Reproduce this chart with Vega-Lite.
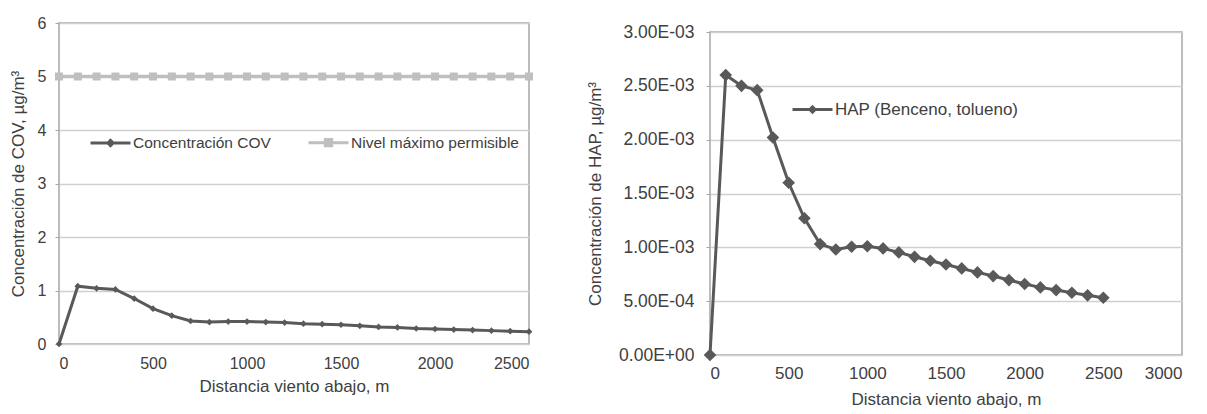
{
  "$schema": "https://vega.github.io/schema/vega-lite/v6.json",
  "background": "white",
  "padding": {"left": 8, "top": 14, "right": 0, "bottom": 0},
  "spacing": 48,
  "align": "none",
  "resolve": {"scale": {"color": "independent"}, "legend": {"color": "independent"}},
  "config": {
    "font": "Liberation Sans",
    "view": {"stroke": "#a6a6a6", "strokeWidth": 1.5},
    "axis": {
      "labelFont": "Liberation Sans",
      "titleFont": "Liberation Sans",
      "labelColor": "#404040",
      "titleColor": "#404040",
      "labelFontSize": 16,
      "titleFontSize": 17,
      "titleFontWeight": "normal",
      "gridColor": "#d0d0d0",
      "gridWidth": 1.5,
      "domain": false,
      "tickColor": "#a6a6a6"
    },
    "legend": {"labelFont": "Liberation Sans", "labelColor": "#404040", "labelLimit": 400}
  },
  "hconcat": [
    {
      "width": 470,
      "height": 321,
      "data": {
        "values": [
          {"d": 0, "serie": "Concentración COV", "c": 0},
          {"d": 100, "serie": "Concentración COV", "c": 1.08},
          {"d": 200, "serie": "Concentración COV", "c": 1.04},
          {"d": 300, "serie": "Concentración COV", "c": 1.02},
          {"d": 400, "serie": "Concentración COV", "c": 0.85},
          {"d": 500, "serie": "Concentración COV", "c": 0.66},
          {"d": 600, "serie": "Concentración COV", "c": 0.53},
          {"d": 700, "serie": "Concentración COV", "c": 0.43},
          {"d": 800, "serie": "Concentración COV", "c": 0.41},
          {"d": 900, "serie": "Concentración COV", "c": 0.42},
          {"d": 1000, "serie": "Concentración COV", "c": 0.42},
          {"d": 1100, "serie": "Concentración COV", "c": 0.41},
          {"d": 1200, "serie": "Concentración COV", "c": 0.4},
          {"d": 1300, "serie": "Concentración COV", "c": 0.38},
          {"d": 1400, "serie": "Concentración COV", "c": 0.37},
          {"d": 1500, "serie": "Concentración COV", "c": 0.36},
          {"d": 1600, "serie": "Concentración COV", "c": 0.34},
          {"d": 1700, "serie": "Concentración COV", "c": 0.32},
          {"d": 1800, "serie": "Concentración COV", "c": 0.31},
          {"d": 1900, "serie": "Concentración COV", "c": 0.29},
          {"d": 2000, "serie": "Concentración COV", "c": 0.28},
          {"d": 2100, "serie": "Concentración COV", "c": 0.27},
          {"d": 2200, "serie": "Concentración COV", "c": 0.26},
          {"d": 2300, "serie": "Concentración COV", "c": 0.25},
          {"d": 2400, "serie": "Concentración COV", "c": 0.24},
          {"d": 2500, "serie": "Concentración COV", "c": 0.23},
          {"d": 0, "serie": "Nivel máximo permisible", "c": 5},
          {"d": 100, "serie": "Nivel máximo permisible", "c": 5},
          {"d": 200, "serie": "Nivel máximo permisible", "c": 5},
          {"d": 300, "serie": "Nivel máximo permisible", "c": 5},
          {"d": 400, "serie": "Nivel máximo permisible", "c": 5},
          {"d": 500, "serie": "Nivel máximo permisible", "c": 5},
          {"d": 600, "serie": "Nivel máximo permisible", "c": 5},
          {"d": 700, "serie": "Nivel máximo permisible", "c": 5},
          {"d": 800, "serie": "Nivel máximo permisible", "c": 5},
          {"d": 900, "serie": "Nivel máximo permisible", "c": 5},
          {"d": 1000, "serie": "Nivel máximo permisible", "c": 5},
          {"d": 1100, "serie": "Nivel máximo permisible", "c": 5},
          {"d": 1200, "serie": "Nivel máximo permisible", "c": 5},
          {"d": 1300, "serie": "Nivel máximo permisible", "c": 5},
          {"d": 1400, "serie": "Nivel máximo permisible", "c": 5},
          {"d": 1500, "serie": "Nivel máximo permisible", "c": 5},
          {"d": 1600, "serie": "Nivel máximo permisible", "c": 5},
          {"d": 1700, "serie": "Nivel máximo permisible", "c": 5},
          {"d": 1800, "serie": "Nivel máximo permisible", "c": 5},
          {"d": 1900, "serie": "Nivel máximo permisible", "c": 5},
          {"d": 2000, "serie": "Nivel máximo permisible", "c": 5},
          {"d": 2100, "serie": "Nivel máximo permisible", "c": 5},
          {"d": 2200, "serie": "Nivel máximo permisible", "c": 5},
          {"d": 2300, "serie": "Nivel máximo permisible", "c": 5},
          {"d": 2400, "serie": "Nivel máximo permisible", "c": 5},
          {"d": 2500, "serie": "Nivel máximo permisible", "c": 5}
        ]
      },
      "encoding": {
        "x": {
          "field": "d", "type": "quantitative",
          "scale": {"domain": [0, 2500], "nice": false},
          "axis": {"values": [0, 500, 1000, 1500, 2000, 2500], "format": "d", "grid": false, "ticks": false, "labelPadding": 11, "titlePadding": 7, "title": "Distancia viento abajo, m"}
        },
        "y": {
          "field": "c", "type": "quantitative",
          "scale": {"domain": [0, 6], "nice": false},
          "axis": {"values": [0, 1, 2, 3, 4, 5, 6], "tickSize": 4, "labelPadding": 9, "titlePadding": 10, "title": "Concentración de COV, µg/m³"}
        },
        "color": {
          "field": "serie", "type": "nominal",
          "scale": {"domain": ["Concentración COV", "Nivel máximo permisible"], "range": ["#595959", "#bfbfbf"]},
          "legend": {
            "orient": "none", "legendX": 30, "legendY": 98, "direction": "horizontal", "title": null,
            "symbolSize": 1600, "labelFontSize": 15.5, "labelOffset": 1, "columnPadding": 31,
            "encode": {
              "symbols": {
                "update": {
                  "shape": {"signal": "datum.value === 'Concentración COV' ? 'M-1,0H1M-0.13,0L0,-0.13L0.13,0L0,0.13Z' : 'M-1,0H1M-0.16,-0.16H0.16V0.16H-0.16Z'"},
                  "fill": {"signal": "datum.value === 'Concentración COV' ? '#595959' : '#bfbfbf'"},
                  "stroke": {"signal": "datum.value === 'Concentración COV' ? '#595959' : '#bfbfbf'"},
                  "strokeWidth": {"value": 3},
                  "opacity": {"value": 1}
                }
              }
            }
          }
        }
      },
      "layer": [
        {"transform": [{"filter": "datum.serie === 'Nivel máximo permisible'"}], "mark": {"type": "line", "strokeWidth": 3.5}},
        {"transform": [{"filter": "datum.serie === 'Nivel máximo permisible'"}], "mark": {"type": "point", "shape": "square", "size": 64, "filled": true, "opacity": 1}},
        {"transform": [{"filter": "datum.serie === 'Concentración COV'"}], "mark": {"type": "line", "strokeWidth": 3}},
        {"transform": [{"filter": "datum.serie === 'Concentración COV'"}], "mark": {"type": "point", "shape": "diamond", "size": 45, "filled": true, "opacity": 1}}
      ]
    },
    {
      "spacing": -5,
      "vconcat": [
        {
          "width": 472,
          "height": 1,
          "view": {"stroke": null},
          "data": {"values": [{"s": 0}]},
          "mark": {"type": "point", "opacity": 0},
          "encoding": {}
        },
        {
          "width": 472,
          "height": 323,
          "data": {
            "values": [
              {"d": 0, "serie": "HAP (Benceno, tolueno)", "c": 0},
              {"d": 100, "serie": "HAP (Benceno, tolueno)", "c": 0.0026},
              {"d": 200, "serie": "HAP (Benceno, tolueno)", "c": 0.0025},
              {"d": 300, "serie": "HAP (Benceno, tolueno)", "c": 0.00246},
              {"d": 400, "serie": "HAP (Benceno, tolueno)", "c": 0.00202},
              {"d": 500, "serie": "HAP (Benceno, tolueno)", "c": 0.0016},
              {"d": 600, "serie": "HAP (Benceno, tolueno)", "c": 0.00127},
              {"d": 700, "serie": "HAP (Benceno, tolueno)", "c": 0.00103},
              {"d": 800, "serie": "HAP (Benceno, tolueno)", "c": 0.00098},
              {"d": 900, "serie": "HAP (Benceno, tolueno)", "c": 0.001005},
              {"d": 1000, "serie": "HAP (Benceno, tolueno)", "c": 0.00101},
              {"d": 1100, "serie": "HAP (Benceno, tolueno)", "c": 0.00099},
              {"d": 1200, "serie": "HAP (Benceno, tolueno)", "c": 0.000953},
              {"d": 1300, "serie": "HAP (Benceno, tolueno)", "c": 0.000912},
              {"d": 1400, "serie": "HAP (Benceno, tolueno)", "c": 0.000875},
              {"d": 1500, "serie": "HAP (Benceno, tolueno)", "c": 0.000841},
              {"d": 1600, "serie": "HAP (Benceno, tolueno)", "c": 0.000804},
              {"d": 1700, "serie": "HAP (Benceno, tolueno)", "c": 0.000767},
              {"d": 1800, "serie": "HAP (Benceno, tolueno)", "c": 0.000733},
              {"d": 1900, "serie": "HAP (Benceno, tolueno)", "c": 0.000696},
              {"d": 2000, "serie": "HAP (Benceno, tolueno)", "c": 0.000659},
              {"d": 2100, "serie": "HAP (Benceno, tolueno)", "c": 0.000628},
              {"d": 2200, "serie": "HAP (Benceno, tolueno)", "c": 0.000603},
              {"d": 2300, "serie": "HAP (Benceno, tolueno)", "c": 0.000578},
              {"d": 2400, "serie": "HAP (Benceno, tolueno)", "c": 0.000554},
              {"d": 2500, "serie": "HAP (Benceno, tolueno)", "c": 0.000532}
            ]
          },
          "encoding": {
            "x": {
              "field": "d", "type": "quantitative",
              "scale": {"domain": [0, 3000], "nice": false},
              "axis": {"values": [0, 500, 1000, 1500, 2000, 2500, 3000], "format": "d", "labelFontSize": 17, "grid": false, "ticks": false, "labelPadding": 10, "titlePadding": 10, "title": "Distancia viento abajo, m"}
            },
            "y": {
              "field": "c", "type": "quantitative",
              "scale": {"domain": [0, 0.003], "nice": false},
              "axis": {
                "values": [0, 0.0005, 0.001, 0.0015, 0.002, 0.0025, 0.003],
                "labelExpr": "replace(replace(format(datum.value, '.2e'), 'e-', 'E-0'), 'e+', 'E+0')",
                "labelFontSize": 17.5,
                "tickSize": 4, "labelPadding": 12, "titlePadding": 14,
                "title": "Concentración de HAP, µg/m³"
              }
            },
            "color": {
              "field": "serie", "type": "nominal",
              "scale": {"domain": ["HAP (Benceno, tolueno)"], "range": ["#595959"]},
              "legend": {
                "orient": "none", "legendX": 81, "legendY": 65, "direction": "horizontal", "title": null,
                "symbolSize": 1600, "labelFontSize": 17, "labelOffset": 1,
                "encode": {
                  "symbols": {
                    "update": {
                      "shape": {"value": "M-1,0H1M-0.13,0L0,-0.13L0.13,0L0,0.13Z"},
                      "fill": {"value": "#595959"},
                      "stroke": {"value": "#595959"},
                      "strokeWidth": {"value": 3},
                      "opacity": {"value": 1}
                    }
                  }
                }
              }
            }
          },
          "layer": [
            {"mark": {"type": "line", "strokeWidth": 3}},
            {"mark": {"type": "point", "shape": "diamond", "size": 160, "filled": true, "opacity": 1}}
          ]
        }
      ]
    }
  ]
}
